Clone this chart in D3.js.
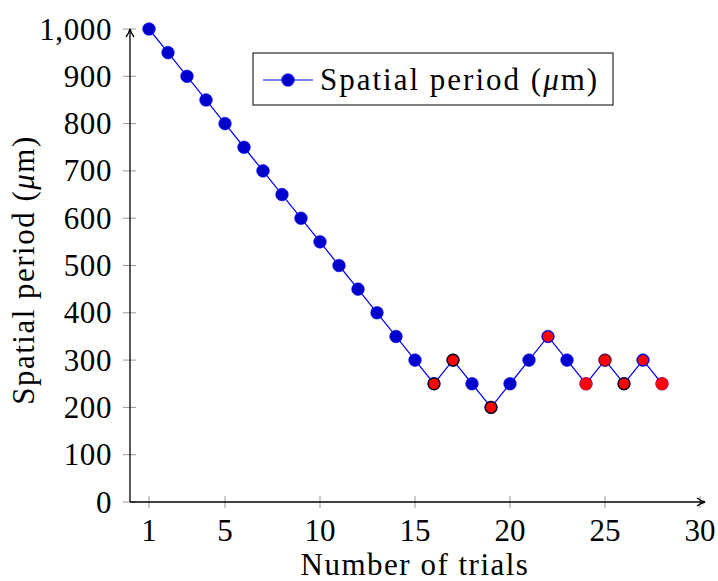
<html>
<script src="https://cdnjs.cloudflare.com/ajax/libs/d3/7.8.5/d3.min.js"></script>
<style>
  body { margin:0; background:#fff; }
  svg { font-family: "Liberation Serif", "DejaVu Serif", serif; }
</style>
<body>
<svg id="chart" width="718" height="581"></svg>
<script>
  // trial number and spatial period (um)
  var trials = [1,2,3,4,5,6,7,8,9,10,11,12,13,14,15,16,17,18,19,20,21,22,23,24,25,26,27,28];
  var period = [1000,950,900,850,800,750,700,650,600,550,500,450,400,350,300,250,300,250,200,250,300,350,300,250,300,250,300,250];
  // highlighted trials drawn in red on top, with the ring look of each
  var redTrials = [16,17,19,22,24,25,26,27,28];
  var redRing   = ["black","black","black","blue","none","dark","black","blue","none"];
  var xTicks = [1,5,10,15,20,25,30];
  var yTicks = [0,100,200,300,400,500,600,700,800,900,1000];

  var svg = d3.select("#chart");
  var x = d3.scaleLinear().domain([0,30]).range([130,700]);
  var y = d3.scaleLinear().domain([0,1000]).range([502,29]);

  var defs = svg.append("defs");
  defs.append("marker").attr("id","arr").attr("viewBox","0 0 10 10")
    .attr("refX",9).attr("refY",5).attr("markerWidth",10).attr("markerHeight",10)
    .attr("markerUnits","userSpaceOnUse").attr("orient","auto")
    .append("path").attr("d","M1,1 Q5,4 9,5 Q5,6 1,9").attr("fill","none")
    .attr("stroke","#000").attr("stroke-width",1.3);

  // tick marks (grey, crossing the axes)
  svg.append("g").selectAll("line").data(yTicks).enter().append("line")
    .attr("x1",123).attr("x2",136).attr("y1",d=>y(d)).attr("y2",d=>y(d))
    .attr("stroke","#999").attr("stroke-width",1);
  svg.append("g").selectAll("line").data(xTicks).enter().append("line")
    .attr("x1",d=>x(d)).attr("x2",d=>x(d)).attr("y1",496).attr("y2",508)
    .attr("stroke","#999").attr("stroke-width",1);

  // axis lines with arrows
  svg.append("line").attr("x1",x(0)).attr("x2",x(30)+5).attr("y1",y(0)).attr("y2",y(0))
    .attr("stroke","#000").attr("stroke-width",1.3).attr("marker-end","url(#arr)");
  svg.append("line").attr("x1",x(0)).attr("x2",x(0)).attr("y1",y(0)).attr("y2",y(1000))
    .attr("stroke","#000").attr("stroke-width",1.3).attr("marker-end","url(#arr)");

  // tick labels
  svg.append("g").selectAll("text").data(yTicks).enter().append("text")
    .attr("x",112).attr("y",d=>y(d)).attr("dy","0.34em")
    .attr("text-anchor","end").style("font-size","31px").style("letter-spacing","0.6px")
    .text(d=>d3.format(",")(d));
  svg.append("g").selectAll("text").data(xTicks).enter().append("text")
    .attr("x",d=>x(d)).attr("y",541)
    .attr("text-anchor","middle").style("font-size","31px")
    .text(d=>d);

  function periodLabel(sel) {
    sel.append("tspan").text("Spatial period (");
    sel.append("tspan").style("font-style","italic").text("\u03BC");
    sel.append("tspan").text("m)");
  }

  // axis labels
  svg.append("text").attr("x",415).attr("y",575).attr("text-anchor","middle")
    .style("font-size","31px").style("letter-spacing","1.5px").text("Number of trials");
  svg.append("text").attr("transform","translate(34,270) rotate(-90)").attr("text-anchor","middle")
    .style("font-size","31px").style("letter-spacing","1.5px")
    .call(periodLabel);

  // data line and marks
  var pts = trials.map((t,i)=>({t:t, v:period[i]}));
  svg.append("path").datum(pts)
    .attr("fill","none").attr("stroke","#0000ff").attr("stroke-width",1.2)
    .attr("d", d3.line().x(d=>x(d.t)).y(d=>y(d.v)));
  svg.append("g").selectAll("circle").data(pts).enter().append("circle")
    .attr("cx",d=>x(d.t)).attr("cy",d=>y(d.v)).attr("r",6.3)
    .attr("fill","#0000cc").attr("stroke","#0000ff").attr("stroke-width",0.6);

  var reds = redTrials.map((t,i)=>({t:t, v:period[trials.indexOf(t)], ring:redRing[i]}));
  svg.append("g").selectAll("circle").data(reds).enter().append("circle")
    .attr("cx",d=>x(d.t)).attr("cy",d=>y(d.v))
    .attr("r",d=>d.ring=="blue" ? 5.2 : (d.ring=="none" ? 6.4 : 5.8))
    .attr("fill","#ff0000")
    .attr("stroke",d=>d.ring=="black" ? "#000" : (d.ring=="dark" ? "#7a1a1a" : "none"))
    .attr("stroke-width",1.2);

  // legend
  svg.append("rect").attr("x",253).attr("y",53).attr("width",360).attr("height",52)
    .attr("fill","#fff").attr("stroke","#000").attr("stroke-width",1);
  svg.append("line").attr("x1",263).attr("x2",313).attr("y1",80).attr("y2",80)
    .attr("stroke","#0000ff").attr("stroke-width",1.2);
  svg.append("circle").attr("cx",288).attr("cy",80).attr("r",6.3)
    .attr("fill","#0000cc").attr("stroke","#0000ff").attr("stroke-width",0.6);
  svg.append("text").attr("x",320).attr("y",90).style("font-size","31px")
    .style("letter-spacing","2px").call(periodLabel);
</script>
</body>
</html>
